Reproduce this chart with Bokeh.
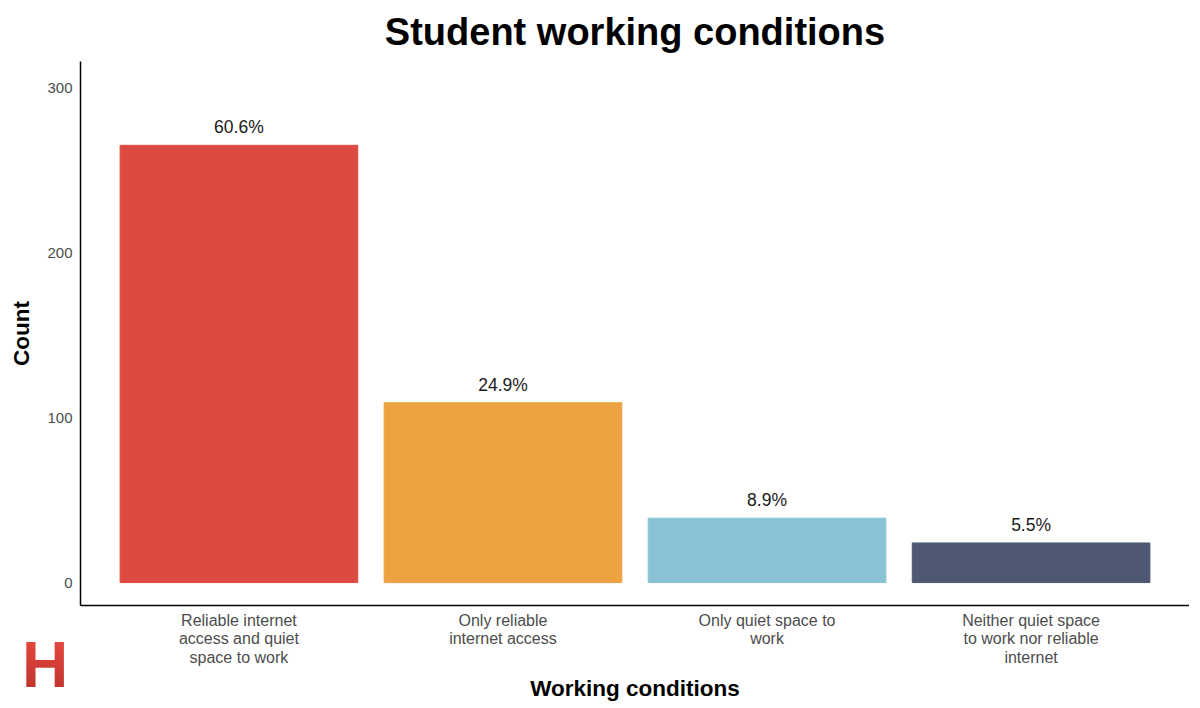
from bokeh.plotting import figure
from bokeh.models import ColumnDataSource, Range1d, FixedTicker, Div
from bokeh.layouts import column
from bokeh.embed import file_html
from bokeh.resources import INLINE
from bokeh.core.properties import value

categories = [
    "Reliable internet\naccess and quiet\nspace to work",
    "Only reliable\ninternet access",
    "Only quiet space to\nwork",
    "Neither quiet space\nto work nor reliable\ninternet",
]
counts = [265, 109, 39, 24]
percent_labels = ["60.6%", "24.9%", "8.9%", "5.5%"]
colors = ["#DD4A42", "#EDA241", "#89C2D4", "#4E5873"]
y_ticks = [0, 100, 200, 300]

FONT = "Liberation Sans"
positions = list(range(1, len(categories) + 1))

src = ColumnDataSource(dict(x=positions, count=counts, label=percent_labels, color=colors))

p = figure(frame_width=1109, frame_height=544, output_backend="svg", toolbar_location=None,
           x_range=Range1d(0.4, 4.6), y_range=Range1d(-13.9, 315.8),
           min_border_left=80, min_border_right=0, min_border_top=60, min_border_bottom=90)

p.title.text = "Student working conditions"
p.title.align = "center"
p.title.text_font = FONT
p.title.text_font_size = "38px"
p.title.text_font_style = "bold"
p.title.text_color = "#000000"
p.title.standoff = 17

p.vbar(x="x", top="count", bottom=0, width=0.9, color="color", source=src)
p.text(x="x", y="count", text="label", source=src, text_align="center",
       text_baseline="bottom", y_offset=-8, text_font=value(FONT),
       text_font_size="17.5px", text_color="#1a1a1a")

p.xgrid.visible = False
p.ygrid.visible = False
p.outline_line_color = None
p.background_fill_color = "white"
p.border_fill_color = "white"

xa = p.xaxis[0]
xa.ticker = FixedTicker(ticks=positions)
xa.major_label_overrides = {i: c for i, c in zip(positions, categories)}
xa.major_tick_line_color = None
xa.minor_tick_line_color = None
xa.major_label_text_font = FONT
xa.major_label_text_font_size = "16px"
xa.major_label_text_line_height = 1.1
xa.major_label_text_color = "#4d4d4d"
xa.major_label_standoff = 0
xa.axis_line_color = "black"
xa.axis_line_width = 1.5
xa.axis_label = "Working conditions"
xa.axis_label_text_font = FONT
xa.axis_label_text_font_size = "22.5px"
xa.axis_label_text_font_style = "bold"
xa.axis_label_text_color = "black"
xa.axis_label_standoff = 7

ya = p.yaxis[0]
ya.ticker = FixedTicker(ticks=y_ticks)
ya.major_tick_line_color = None
ya.minor_tick_line_color = None
ya.major_label_text_font = FONT
ya.major_label_text_font_size = "15px"
ya.major_label_text_color = "#4d4d4d"
ya.major_label_standoff = 2
ya.axis_line_color = "black"
ya.axis_line_width = 1.5
ya.axis_label = "Count"
ya.axis_label_text_font = FONT
ya.axis_label_text_font_size = "22.5px"
ya.axis_label_text_font_style = "bold"
ya.axis_label_text_color = "black"
ya.axis_label_standoff = 10

logo = Div(
    text='<div style="font-family:\'Liberation Sans\';font-weight:bold;font-size:64px;'
         'line-height:64px;color:#D8433B;'
         'background:linear-gradient(#EA4A41,#B9302B);'
         '-webkit-background-clip:text;background-clip:text;'
         '-webkit-text-fill-color:transparent;">H</div>',
    width=50, height=64,
    styles={"position": "absolute", "left": "17px", "top": "628px"},
)

layout = column(p, logo)
open("out.html", "w").write(file_html(layout, INLINE))
